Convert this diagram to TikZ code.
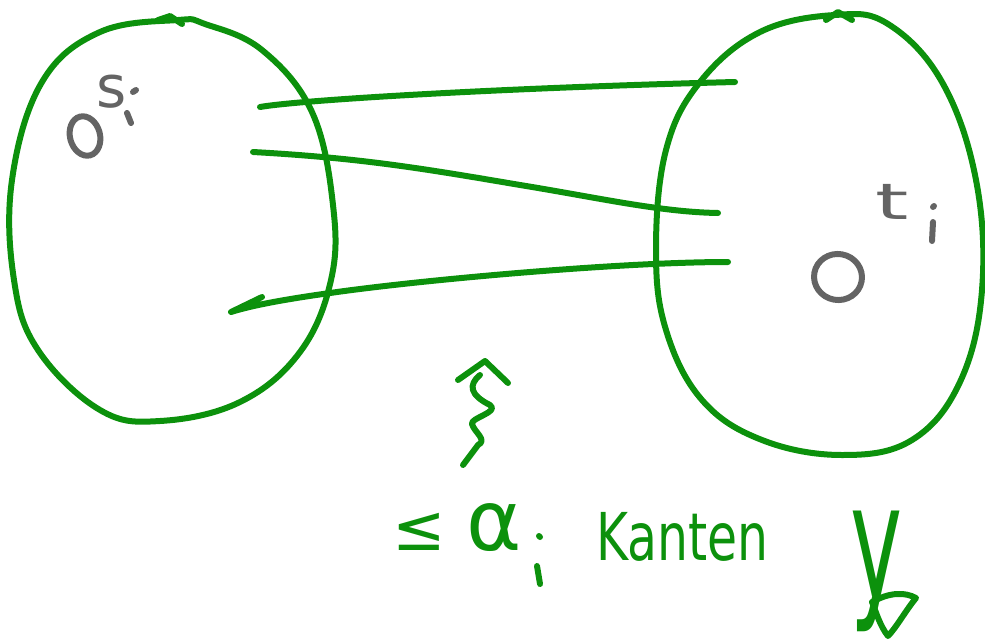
\documentclass[tikz,border=0pt]{standalone}
\usepackage{fontspec}
\setmainfont{DejaVu Sans}
\begin{document}
\begin{tikzpicture}[x=1pt,y=-1pt,
  pen/.style={draw=penG, line width=6pt, line cap=round, line join=round},
  gpen/.style={draw=penGrey, line width=6pt, line cap=round},
  glabel/.style={text=penGrey, inner sep=0pt, font=\fontsize{58}{60}\selectfont},
  hw/.style={text=penG, inner sep=0pt, font=\fontsize{60}{70}\selectfont}]
\definecolor{penG}{RGB}{12,145,12}
\definecolor{penGrey}{RGB}{100,100,100}
\useasboundingbox (0,0) rectangle (985,643);
% left set
\draw[pen] plot[smooth cycle, tension=0.65] coordinates {(178,20) (100,32) (42,82) (12,180) (14,280) (38,350) (100,410) (160,421) (240,402) (300,352) (331,280) (333,205) (312,112) (262,50) (205,24)};
\draw[pen] (158,20) -- (170,16) -- (182,24);
% right set
\draw[pen] plot[smooth cycle, tension=0.65] coordinates {(835,15) (760,32) (700,82) (666,150) (656,250) (666,330) (702,400) (762,440) (842,455) (912,440) (960,382) (982,290) (976,180) (942,82) (888,24)};
\draw[pen] (826,20) -- (838,12) -- (852,20);
% connector end points
\coordinate (a1) at (260,107);
\coordinate (b1) at (735,82);
\coordinate (a2) at (253,152);
\coordinate (b2) at (718,213);
\coordinate (a3) at (231,312);
\coordinate (b3) at (728,262);
\coordinate (h3) at (262,297);
\draw[pen] (a1) .. controls (300,100) and (500,88) .. (b1);
\draw[pen] (a2) .. controls (360,158) and (420,168) .. (520,185) .. controls (600,198) and (660,212) .. (b2);
\draw[pen] (b3) .. controls (620,262) and (420,280) .. (330,293) .. controls (280,300) and (250,306) .. (a3) -- (h3);
% vertices
\draw[gpen] (85,136) ellipse[x radius=15, y radius=20, rotate=15];
\node[glabel] (si) at (112,92) {s};
\draw[gpen] (127,113) -- (131,123);
\coordinate (sidot) at (133,92);
\draw[gpen] (sidot) -- ++(3,-2);
\draw[gpen] (838,277) ellipse[x radius=24, y radius=23, rotate=-10];
\node[glabel, xscale=1.7, font=\fontsize{50}{60}\selectfont] (ti) at (892,202) {t};
\draw[gpen] (933,222) -- (932,241);
\coordinate (tidot) at (933,207);
\draw[gpen] (tidot) -- ++(1,-1);
% squiggle arrow
\coordinate (sq0) at (480,375);
\coordinate (sq1) at (463,465);
\draw[pen] (sq0) .. controls (468,385) and (470,395) .. (490,405) .. controls (500,412) and (470,418) .. (472,424) .. controls (474,432) and (488,440) .. (478,445) -- (sq1);
\draw[pen] (458,380) -- (485,361) -- (508,383);
% labels
\node[hw, font=\fontsize{64}{70}\selectfont] (leq) at (419,532) {≤};
\node[hw, font=\fontsize{84}{90}\selectfont] (alpha) at (494,528) {α};
\draw[pen] (537,566) -- (540,584);
\draw[pen] (539,536) -- (540,537);
\node[hw, anchor=base west, xscale=0.74, font=\fontsize{66}{70}\selectfont] (kanten) at (596,560) {Kanten};
\node[hw, anchor=base west, xscale=0.55, font=\fontsize{160}{170}\selectfont] (y) at (850,598) {y};
\draw[pen] (872,602) .. controls (890,592) and (905,592) .. (916,598) .. controls (906,610) and (896,628) .. (888,636) .. controls (880,626) and (876,612) .. (872,602);
\end{tikzpicture}
\end{document}
